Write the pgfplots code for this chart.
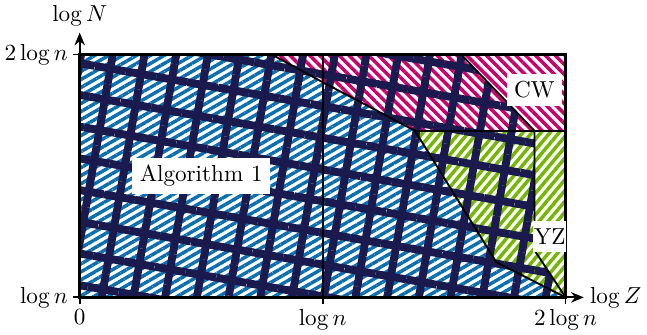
\documentclass[border=0pt]{standalone}
\usepackage{pgfplots}
\pgfplotsset{compat=1.18}
\usetikzlibrary{patterns.meta,arrows.meta}
\definecolor{cblue}{HTML}{0A6FAE}
\definecolor{cmag}{HTML}{C9006B}
\definecolor{cgreen}{HTML}{72B600}
\definecolor{cnavy}{HTML}{1B1A4E}
\begin{document}
\begin{tikzpicture}
\begin{axis}[
  x=105pt, y=105pt,
  xmin=0, xmax=2.075, ymin=1, ymax=2.09,
  axis lines=left,
  axis line style={thick, -{Stealth[length=5.5pt,width=4.5pt]}},
  xtick={0,1,2}, xticklabels={$0$,$\log n$,$2\log n$},
  ytick={1,2}, yticklabels={$\log n$,$2\log n$},
  tick align=outside, major tick length=3pt,
  tick style={black, thick},
  xticklabel style={inner sep=2pt},
  yticklabel style={inner sep=2pt},
  every axis x label/.style={at={(axis description cs:1,0)},anchor=west,inner sep=2.5pt},
  every axis y label/.style={at={(axis description cs:0,1)},anchor=south,inner sep=2.5pt},
  xlabel={$\log Z$}, ylabel={$\log N$},
  clip=false,
]
% Algorithm 1 region (blue)
\addplot[draw=none, pattern={Lines[angle=30,distance=3pt,line width=1.5pt]}, pattern color=cblue]
  coordinates {(0,1) (0,2) (0.79,2) (1,1.886) (1.38,1.686) (1.715,1.145) (2,1)} -- cycle;
% CW region (magenta)
\addplot[draw=none, pattern={Lines[angle=-45,distance=3pt,line width=1.5pt]}, pattern color=cmag]
  coordinates {(0.79,2) (2,2) (2,1.686) (1.38,1.686) (1,1.886)} -- cycle;
% YZ region (green)
\addplot[draw=none, pattern={Lines[angle=50,distance=3pt,line width=1.5pt]}, pattern color=cgreen]
  coordinates {(1.38,1.686) (2,1.686) (2,1) (1.715,1.145)} -- cycle;
% navy cross-hatch region
\addplot[draw=none, pattern={Lines[angle=-10,distance=13.5pt,line width=3.4pt]}, pattern color=cnavy]
  coordinates {(0,1) (0,2) (1.57,2) (1.872,1.686) (1.872,1.194) (2,1)} -- cycle;
\addplot[draw=none, pattern={Lines[angle=80,distance=13.5pt,line width=3.4pt]}, pattern color=cnavy]
  coordinates {(0,1) (0,2) (1.57,2) (1.872,1.686) (1.872,1.194) (2,1)} -- cycle;
% boundary lines
\addplot[black, thick] coordinates {(0.79,2) (1,1.886) (1.38,1.686) (1.715,1.145) (2,1)};
\addplot[black, thick] coordinates {(1.38,1.686) (2,1.686)};
\addplot[black, thick] coordinates {(1.57,2) (1.872,1.686) (1.872,1.194) (2,1)};
\addplot[black, thick] coordinates {(1,1) (1,2)};
\draw[very thick] (0,1) rectangle (2,2);
\node[fill=white] at (0.5,1.5) {Algorithm 1};
\node[fill=white] at (1.872,1.855) {CW};
\node[fill=white, inner xsep=0.3pt] at (1.935,1.252) {YZ};
\end{axis}
\end{tikzpicture}
\end{document}
